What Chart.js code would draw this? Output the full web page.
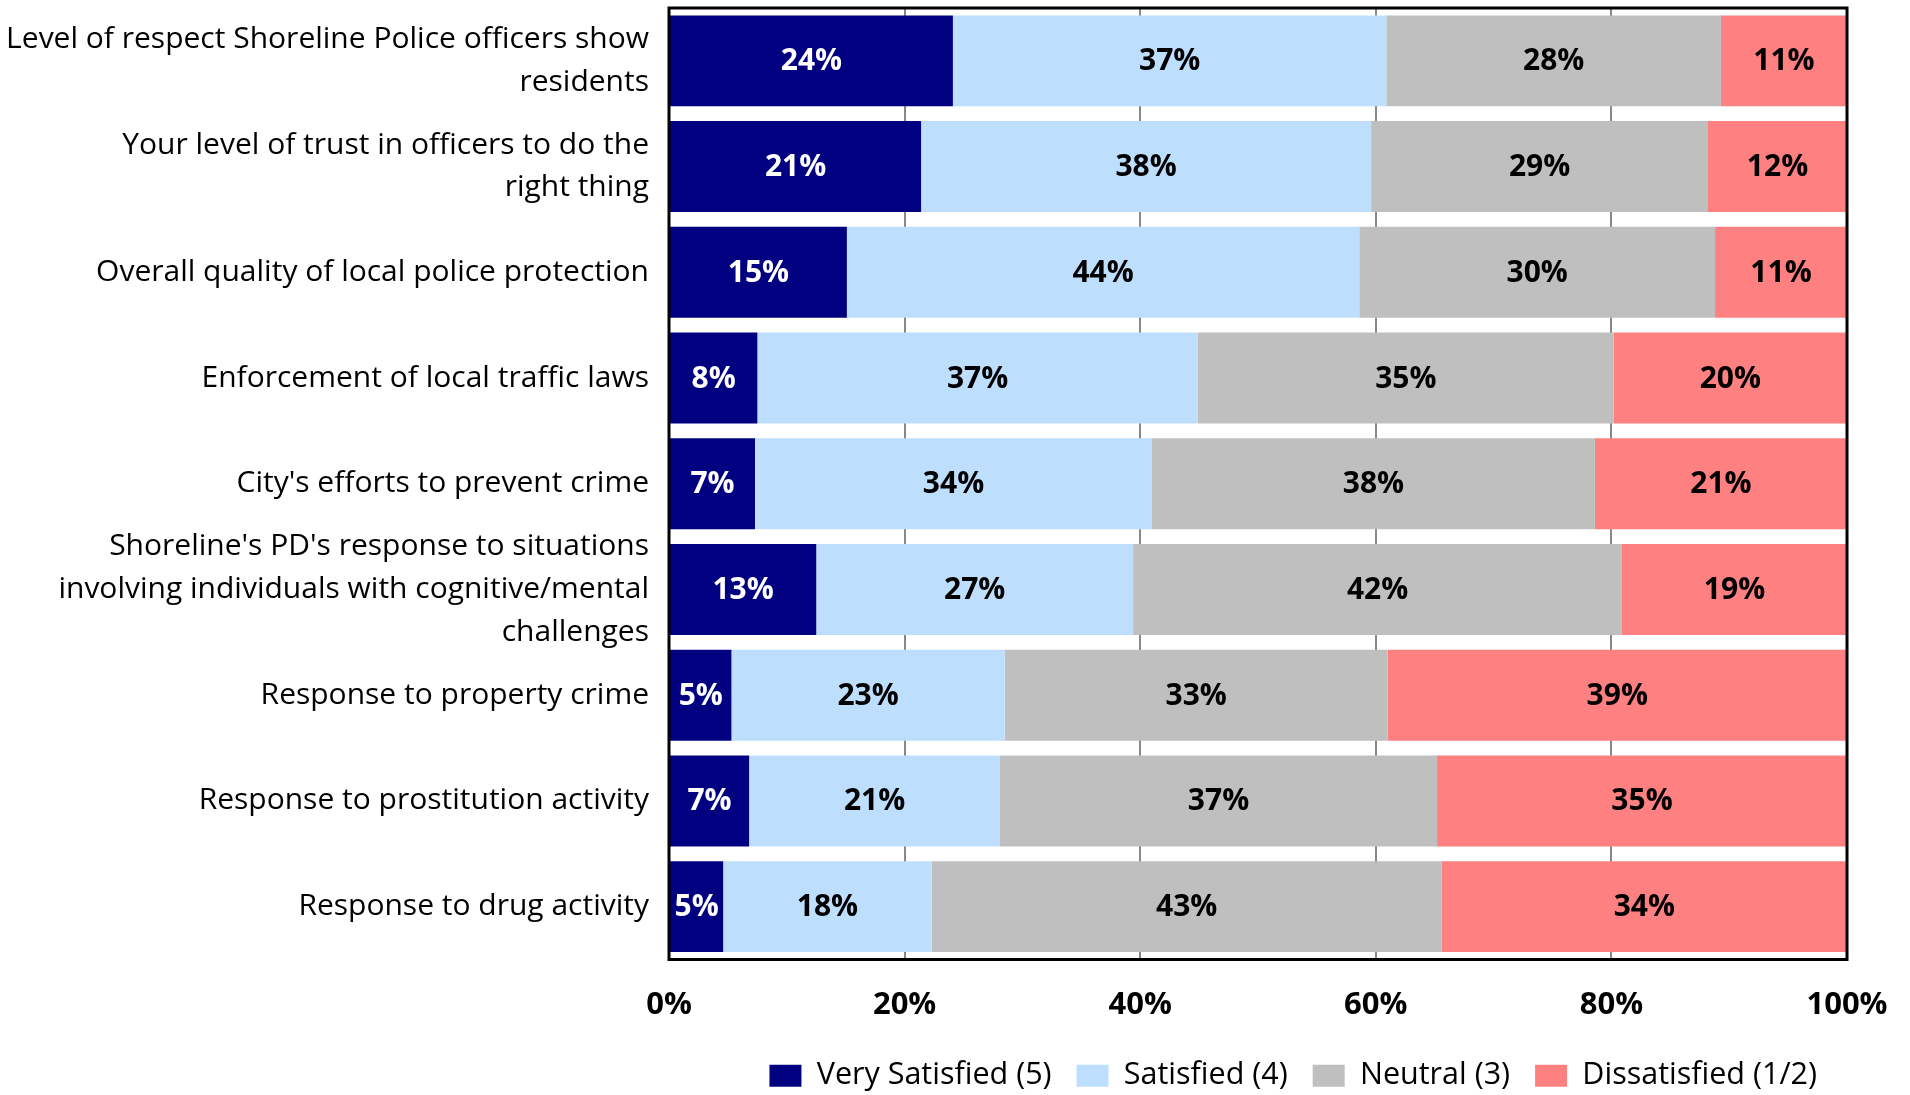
<!DOCTYPE html>
<html>
<head>
<meta charset="utf-8">
<script src="https://cdn.jsdelivr.net/npm/chart.js@4/dist/chart.umd.min.js"></script>
<style>
  html, body { margin: 0; padding: 0; background: #fff; }
  #wrap { width: 1910px; height: 1095px; position: relative; }
</style>
</head>
<body>
<div id="wrap"><canvas id="c" width="1910" height="1095"></canvas></div>
<script>
const categories = [
  ["Level of respect Shoreline Police officers show", "residents"],
  ["Your level of trust in officers to do the", "right thing"],
  "Overall quality of local police protection",
  "Enforcement of local traffic laws",
  "City's efforts to prevent crime",
  ["Shoreline's PD's response to situations", "involving individuals with cognitive/mental", "challenges"],
  "Response to property crime",
  "Response to prostitution activity",
  "Response to drug activity"
];
const seriesNames = ["Very Satisfied (5)", "Satisfied (4)", "Neutral (3)", "Dissatisfied (1/2)"];
const verySatisfied = [24.1, 21.4, 15.1, 7.5, 7.3, 12.5, 5.3, 6.8, 4.6];
const satisfied     = [36.8, 38.2, 43.5, 37.4, 33.7, 26.9, 23.2, 21.3, 17.7];
const neutral       = [28.4, 28.6, 30.2, 35.3, 37.6, 41.5, 32.5, 37.1, 43.3];
const dissatisfied  = [10.7, 11.8, 11.2, 19.8, 21.4, 19.1, 39.0, 34.8, 34.4];
const xTicks = [0, 20, 40, 60, 80, 100];

const colors = ["#000080", "#BDDFFD", "#BFBFBF", "#FF8080"];
const FONT = "'Open Sans', sans-serif";

const dataLabelPlugin = {
  id: 'dataLabels',
  afterDatasetsDraw(chart) {
    const ctx = chart.ctx;
    ctx.save();
    ctx.font = "bold 30px " + FONT;
    ctx.textAlign = 'center';
    ctx.textBaseline = 'middle';
    chart.data.datasets.forEach((ds, i) => {
      const meta = chart.getDatasetMeta(i);
      meta.data.forEach((bar, j) => {
        const v = ds.data[j];
        ctx.fillStyle = i === 0 ? '#FFFFFF' : '#000000';
        ctx.fillText(Math.round(v) + '%', (bar.x + bar.base) / 2, bar.y + 1);
      });
    });
    ctx.restore();
  }
};

const layoutPlugin = {
  id: 'layoutTweak',
  afterLayout(chart) {
    const lg = chart.legend;
    if (lg) { lg.top += 6; lg.bottom += 6; lg.left -= 5; lg.right -= 5; }
  }
};

const borderPlugin = {
  id: 'plotBorder',
  afterDraw(chart) {
    const a = chart.chartArea, ctx = chart.ctx;
    ctx.save();
    ctx.strokeStyle = '#000';
    ctx.lineWidth = 3;
    ctx.strokeRect(a.left, a.top, a.right - a.left, a.bottom - a.top);
    ctx.restore();
  }
};

new Chart(document.getElementById('c'), {
  type: 'bar',
  data: {
    labels: categories,
    datasets: [verySatisfied, satisfied, neutral, dissatisfied].map((d, i) => ({
      label: seriesNames[i],
      data: d,
      backgroundColor: colors[i],
      borderWidth: 0,
      categoryPercentage: 1.0,
      barPercentage: 0.86
    }))
  },
  options: {
    indexAxis: 'y',
    responsive: false,
    devicePixelRatio: 1,
    animation: false,
    layout: { padding: { top: 8, right: 63, bottom: 0, left: 0 } },
    scales: {
      x: {
        stacked: true,
        min: 0, max: 100,
        afterBuildTicks(scale) { scale.ticks = xTicks.map(v => ({ value: v })); },
        afterFit(scale) {
          scale.height = 70;
          scale.paddingLeft = 0; scale.paddingRight = 0;
        },
        ticks: {
          callback: v => v + '%',
          font: { family: FONT, size: 31, weight: 'bold' },
          color: '#000',
          padding: 27,
          maxRotation: 0,
          autoSkip: false
        },
        grid: {
          color: '#888888',
          lineWidth: 2,
          drawTicks: false,
          borderDash: [8, 98],
          borderDashOffset: 5
        },
        border: { display: false }
      },
      y: {
        stacked: true,
        afterFit(scale) {
          scale.width = 669;
          scale.paddingTop = 0; scale.paddingBottom = 0;
        },
        ticks: {
          font: { family: FONT, size: 30, lineHeight: 1.42 },
          color: '#000',
          padding: 12,
          autoSkip: false
        },
        grid: { display: false },
        border: { display: false }
      }
    },
    plugins: {
      legend: {
        position: 'bottom',
        align: 'end',
        labels: {
          boxWidth: 32,
          boxHeight: 22,
          padding: 25,
          color: '#000',
          font: { family: FONT, size: 30.5 }
        }
      },
      tooltip: { enabled: false }
    }
  },
  plugins: [dataLabelPlugin, layoutPlugin, borderPlugin]
});
</script>
</body>
</html>
